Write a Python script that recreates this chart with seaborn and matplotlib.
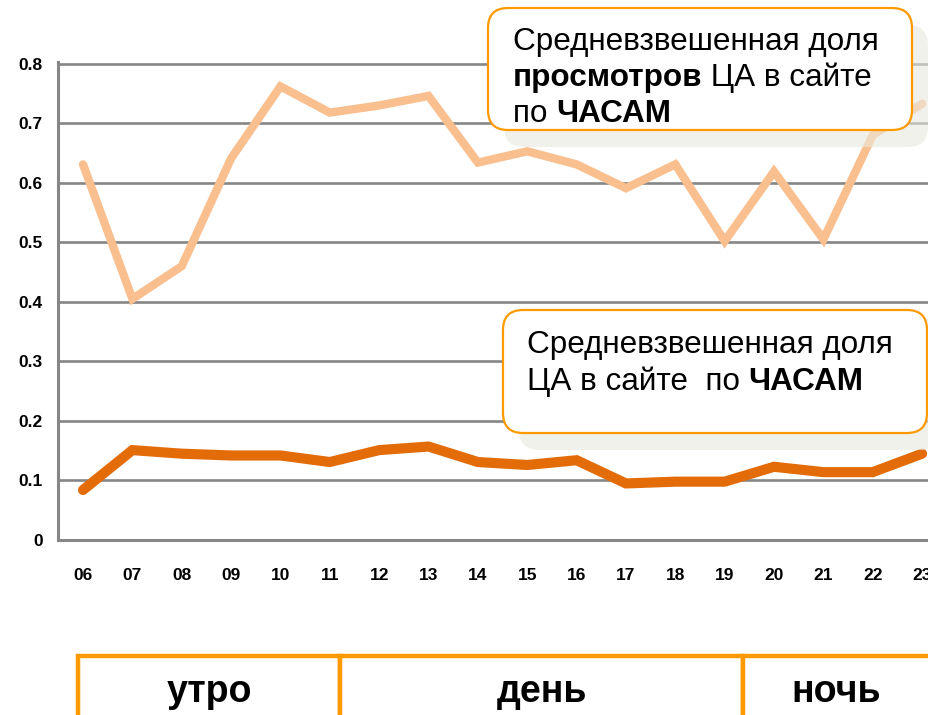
"""Средневзвешенная доля ЦА / просмотров по часам."""
import matplotlib
matplotlib.use("Agg")
import matplotlib.pyplot as plt
import pandas as pd
import seaborn as sns
from matplotlib.patches import FancyBboxPatch, Rectangle
from matplotlib.text import Annotation
from matplotlib.transforms import IdentityTransform

hours = ["06", "07", "08", "09", "10", "11", "12", "13", "14",
         "15", "16", "17", "18", "19", "20", "21", "22", "23"]
views_share = [0.631, 0.405, 0.46, 0.641, 0.762, 0.718, 0.73, 0.746, 0.634,
               0.653, 0.631, 0.591, 0.631, 0.502, 0.619, 0.505, 0.68, 0.733]
audience_share = [0.084, 0.151, 0.145, 0.142, 0.142, 0.131, 0.151, 0.157, 0.131,
                  0.126, 0.134, 0.095, 0.098, 0.098, 0.123, 0.114, 0.114, 0.145]
y_ticks = [0, 0.1, 0.2, 0.3, 0.4, 0.5, 0.6, 0.7, 0.8]
y_tick_labels = ["0", "0.1", "0.2", "0.3", "0.4", "0.5", "0.6", "0.7", "0.8"]
periods = ["утро", "день", "ночь"]

W, H = 929, 715
ORANGE = "#FF9900"
GRID = "#868686"

sns.set_style("white")
plt.rcParams["font.family"] = ["Liberation Sans", "DejaVu Sans"]
plt.rcParams["text.color"] = "black"
plt.rcParams["xtick.color"] = "black"
plt.rcParams["ytick.color"] = "black"

df = pd.DataFrame({"hour": hours, "views": views_share, "aud": audience_share})

fig = plt.figure(figsize=(W / 100, H / 100), dpi=100)
ax = fig.add_axes([58 / W, 1 - 540 / H, (W - 58) / W, (540 - 62) / H])

sns.lineplot(data=df, x="hour", y="views", ax=ax, color="#F9BF8F", linewidth=6,
             solid_capstyle="round", solid_joinstyle="miter", zorder=3)
sns.lineplot(data=df, x="hour", y="aud", ax=ax, color="#E36C09", linewidth=7.3,
             solid_capstyle="round", solid_joinstyle="miter", zorder=3)

ax.set_xlim(-0.507, 17.14)
ax.set_ylim(0, 0.803)
ax.set_yticks(y_ticks)
ax.set_yticklabels(y_tick_labels)
ax.set_xlabel("")
ax.set_ylabel("")
for y in y_ticks[1:]:
    ax.axhline(y, color=GRID, linewidth=1.9, zorder=1)
for side in ["top", "right"]:
    ax.spines[side].set_visible(False)
for side in ["left", "bottom"]:
    ax.spines[side].set_color(GRID)
    ax.spines[side].set_linewidth(2.2)
ax.tick_params(axis="both", length=0, labelsize=12.5, labelcolor="black")
ax.tick_params(axis="y", pad=11)
ax.tick_params(axis="x", pad=20)
for lab in ax.get_xticklabels() + ax.get_yticklabels():
    lab.set_fontweight("bold")

ident = IdentityTransform()


def callout(x0, y0, x1, y1):
    # shadow then white rounded box, pixel coords from top-left
    shadow = FancyBboxPatch((x0 + 16, H - y1 - 17), x1 - x0, y1 - y0,
                            boxstyle="round,pad=0,rounding_size=20",
                            transform=ident, facecolor="#e9e9df", alpha=0.6,
                            edgecolor="none", zorder=5)
    box = FancyBboxPatch((x0, H - y1), x1 - x0, y1 - y0,
                         boxstyle="round,pad=0,rounding_size=20",
                         transform=ident, facecolor="white",
                         edgecolor=ORANGE, linewidth=1.6, zorder=6)
    fig.add_artist(shadow)
    fig.add_artist(box)


def rich_line(x, y, parts, size=22.7):
    prev = None
    for txt, weight in parts:
        if prev is None:
            prev = fig.text(x / W, 1 - y / H, txt, fontsize=size, fontweight=weight,
                            va="baseline", ha="left", color="black", zorder=8)
        else:
            ann = Annotation(txt, xy=(1, 0), xycoords=prev, va="bottom", ha="left",
                             fontsize=size, fontweight=weight, color="black", zorder=8)
            fig.add_artist(ann)
            prev = ann


callout(488, 8, 912, 130)
rich_line(513, 50, [("Средневзвешенная доля", "normal")])
rich_line(513, 86, [("просмотров", "bold"), (" ЦА в сайте", "normal")])
rich_line(513, 122, [("по ", "normal"), ("ЧАСАМ", "bold")])

callout(503, 310, 927, 433)
rich_line(527, 353, [("Средневзвешенная доля", "normal")])
rich_line(527, 390, [("ЦА в сайте  по ", "normal"), ("ЧАСАМ", "bold")])

# period boxes along the bottom
edges = [78, 340, 743, 940]
for i, name in enumerate(periods):
    rect = Rectangle((edges[i], -10), edges[i + 1] - edges[i], H - 656 + 10,
                     transform=ident, facecolor="white", edgecolor=ORANGE,
                     linewidth=3.2, zorder=5)
    fig.add_artist(rect)
    fig.text((edges[i] + min(edges[i + 1], 929)) / 2 / W, 1 - 702 / H, name,
             fontsize=27, fontweight="bold", ha="center", va="baseline",
             color="black", zorder=8)

fig.savefig("out.png", dpi=100)
